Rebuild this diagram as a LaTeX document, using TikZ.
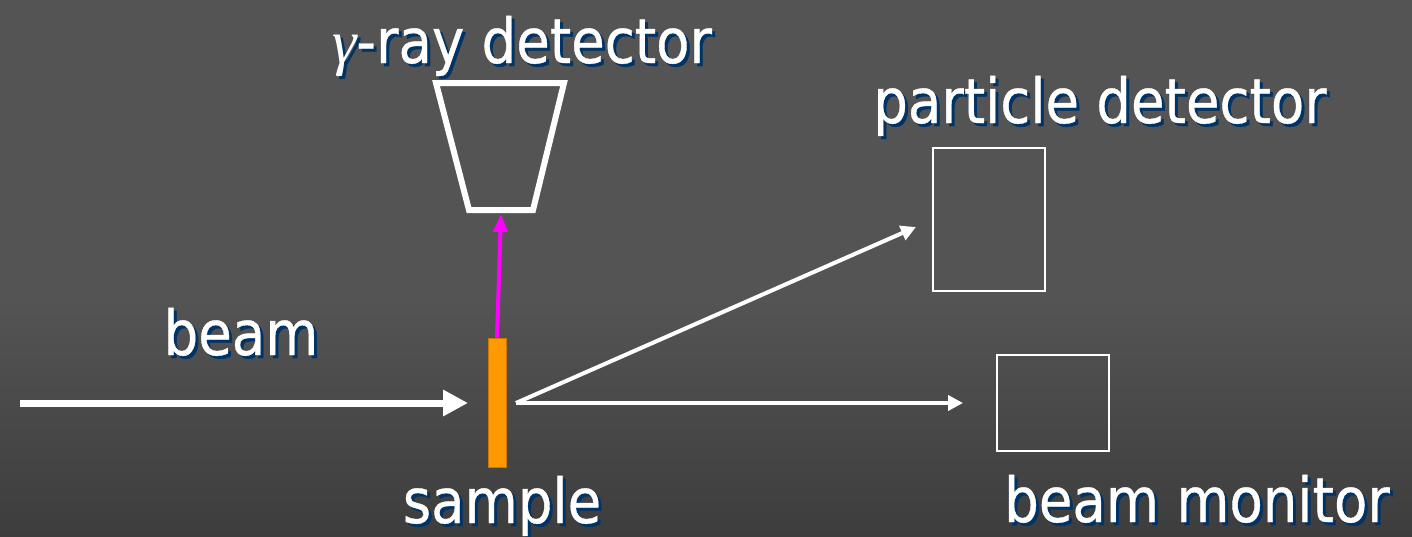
\documentclass[tikz,border=0pt]{standalone}
\usepackage{fontspec}
\setmainfont{DejaVu Sans}[FakeStretch=0.88,FakeBold=0.6]
\newfontfamily\greekfont{Liberation Serif}
\usetikzlibrary{arrows.meta,calc}
\definecolor{shadowblue}{RGB}{0,51,102}
\definecolor{sampleorange}{RGB}{255,153,0}
\definecolor{sampleedge}{RGB}{200,120,0}
\definecolor{bgtop}{RGB}{84,84,84}
\definecolor{bgbottom}{RGB}{61,61,61}
\definecolor{gammaray}{RGB}{255,0,255}
\newcommand{\gammasym}{{\greekfont\itshape γ}}
% text with a dark drop shadow set behind it
\newcommand{\shadowed}[1]{\makebox[0pt][l]{\kern3pt\raisebox{-3pt}{\color{shadowblue}#1}}#1}
\begin{document}
\begin{tikzpicture}[x=1pt,y=-1pt,
  lbl/.style={font=\fontsize{62}{74}\selectfont, text=white, inner sep=0pt,
              anchor=base, text depth=0pt},
  detbox/.style={draw=white, line width=2pt, inner sep=0pt},
  ray/.style={draw=white, line width=4pt, -{Triangle[length=15pt,width=15pt]}},
  beamarrow/.style={draw=white, line width=7pt, -{Triangle[length=25pt,width=25pt]}},
  gammaarrow/.style={draw=gammaray, line width=4pt, -{Triangle[length=18pt,width=14pt]}}]
  % background
  \useasboundingbox (0,0) rectangle (1412,536);
  \fill[bgtop] (0,0) rectangle (1412,300);
  \shade[top color=bgtop, bottom color=bgbottom] (0,299.5) rectangle (1412,536);

  % gamma-ray detector (trapezoid)
  \draw[white, line width=6pt, line join=miter]
    (436,83) -- (564,83) -- (533,210) -- (469,210) -- cycle;
  \coordinate (gdet) at (501,214);

  % sample
  \node[fill=sampleorange, draw=sampleedge, line width=0.6pt, inner sep=0pt,
        minimum width=18pt, minimum height=129pt] (sample) at (497,402.5) {};

  % particle detector and beam monitor
  \node[detbox, minimum width=112pt, minimum height=143pt] (pdet) at (988.5,219) {};
  \node[detbox, minimum width=112pt, minimum height=96pt] (bmon) at (1052.5,402.5) {};

  % free ends of the connectors
  \coordinate (beamstart) at (20,403);
  \coordinate (beamend) at (468,403);
  \coordinate (out) at (516,403);
  \coordinate (pdin) at (916,227);
  \coordinate (bmin) at (963,403);

  % connectors
  \draw[beamarrow] (beamstart) -- (beamend);
  \draw[gammaarrow] (sample.north) -- (gdet);
  \draw[ray] (out) -- (pdin);
  \draw[ray] (out) -- (bmin);

  % labels
  \node[lbl] (gl) at (522,63) {\shadowed{\gammasym-ray detector}};
  \node[lbl] (pl) at (1100,123) {\shadowed{particle detector}};
  \node[lbl] (bl) at (241,355) {\shadowed{beam}};
  \node[lbl] (sl) at (502,523) {\shadowed{sample}};
  \node[lbl] (ml) at (1197,522) {\shadowed{beam monitor}};
\end{tikzpicture}
\end{document}
